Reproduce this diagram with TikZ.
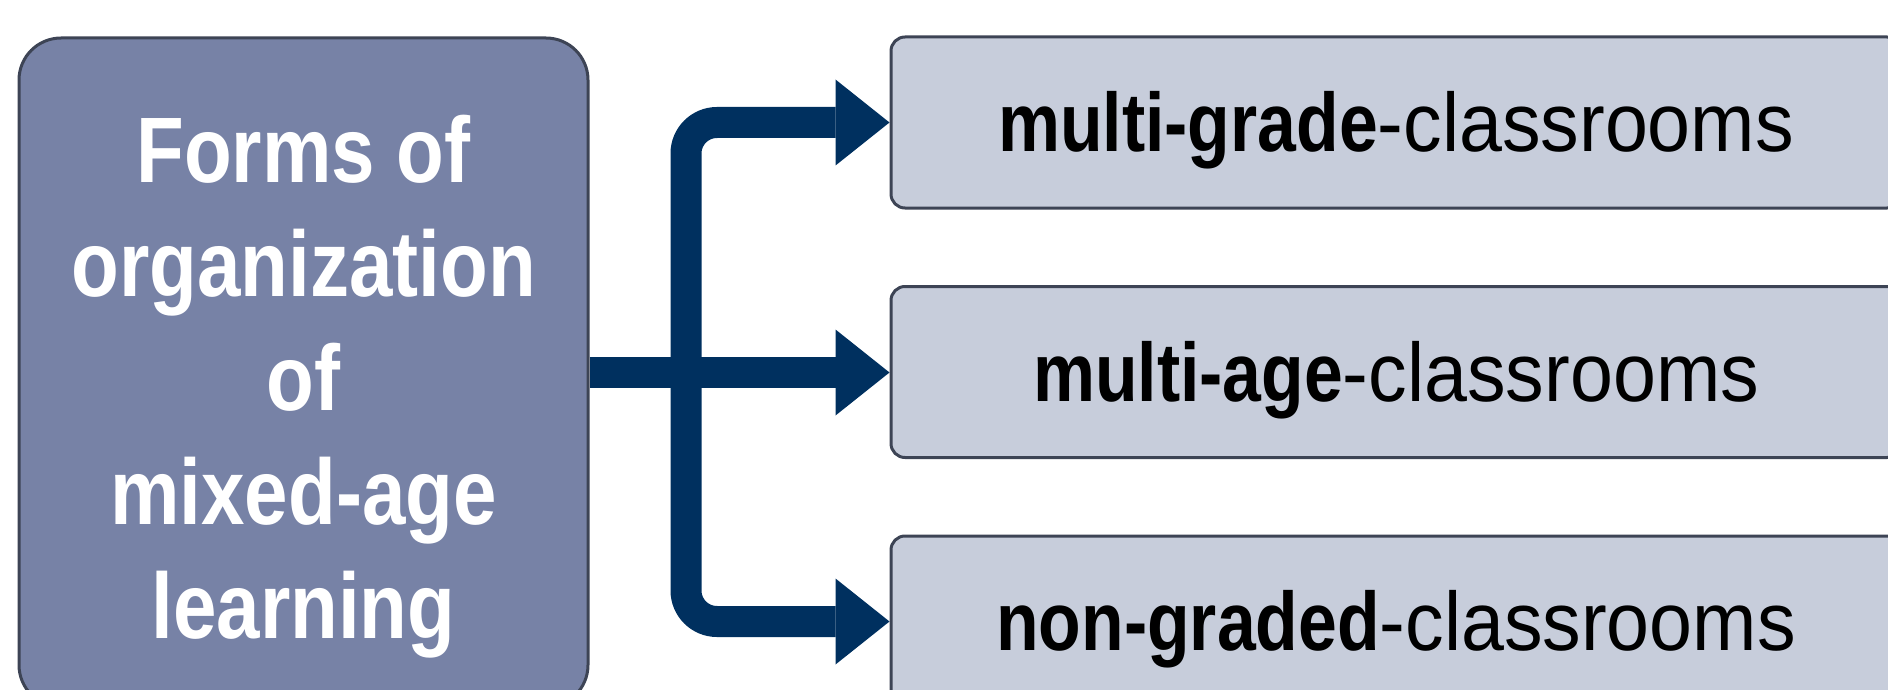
\documentclass[tikz,border=0pt]{standalone}
\usepackage{fontspec}
\setmainfont{Liberation Sans}
\newfontfamily\bcond[FakeStretch=0.84]{Liberation Sans}
\newfontfamily\rcond[FakeStretch=0.93]{Liberation Sans}
\usetikzlibrary{arrows.meta,calc}
\definecolor{leftfill}{HTML}{7782A6}
\definecolor{rightfill}{HTML}{C7CDDB}
\definecolor{boxborder}{HTML}{3D4455}
\definecolor{arrowblue}{HTML}{00305F}
\tikzset{
  mainbox/.style={draw=boxborder, line width=3pt, fill=leftfill, rounded corners=42pt,
    minimum width=569pt, minimum height=669pt, inner sep=0pt, align=center,
    text=white, font=\bcond\bfseries\fontsize{93}{114}\selectfont},
  formbox/.style={draw=boxborder, line width=3pt, fill=rightfill, rounded corners=14pt,
    minimum width=1010pt, minimum height=171pt, inner sep=0pt,
    text=black, text height=60pt, text depth=2pt, font=\fontsize{83}{96}\selectfont},
  conn/.style={draw=arrowblue, line width=31pt, rounded corners=31pt,
    -{Triangle[length=54pt,width=86pt,line width=0pt]}},
}
\newcommand{\bpart}[1]{{\bcond\bfseries #1}}
\newcommand{\rpart}[1]{{\rcond #1}}
\begin{document}
\begin{tikzpicture}[x=1pt,y=-1pt]
\useasboundingbox (0,0) rectangle (1888,690);
\node[mainbox] (left) at (303.5,372.5) {\rule{0pt}{95pt}Forms of\\organization\\of\\mixed-age\\learning};
\node[formbox] (top) at (1396,122.5) {\bpart{multi-grade}\rpart{-classrooms}};
\node[formbox] (mid) at (1396,372) {\bpart{multi-age}\rpart{-classrooms}};
\node[formbox] (bot) at (1396,621.5) {\bpart{non-graded}\rpart{-classrooms}};
\coordinate (split) at ([xshift=96.5pt]left.east);
\draw[conn] (left.east) -- (left.east -| mid.west);
\draw[conn] (split) |- (top.west);
\draw[conn] (split) |- (bot.west);
\end{tikzpicture}
\end{document}
